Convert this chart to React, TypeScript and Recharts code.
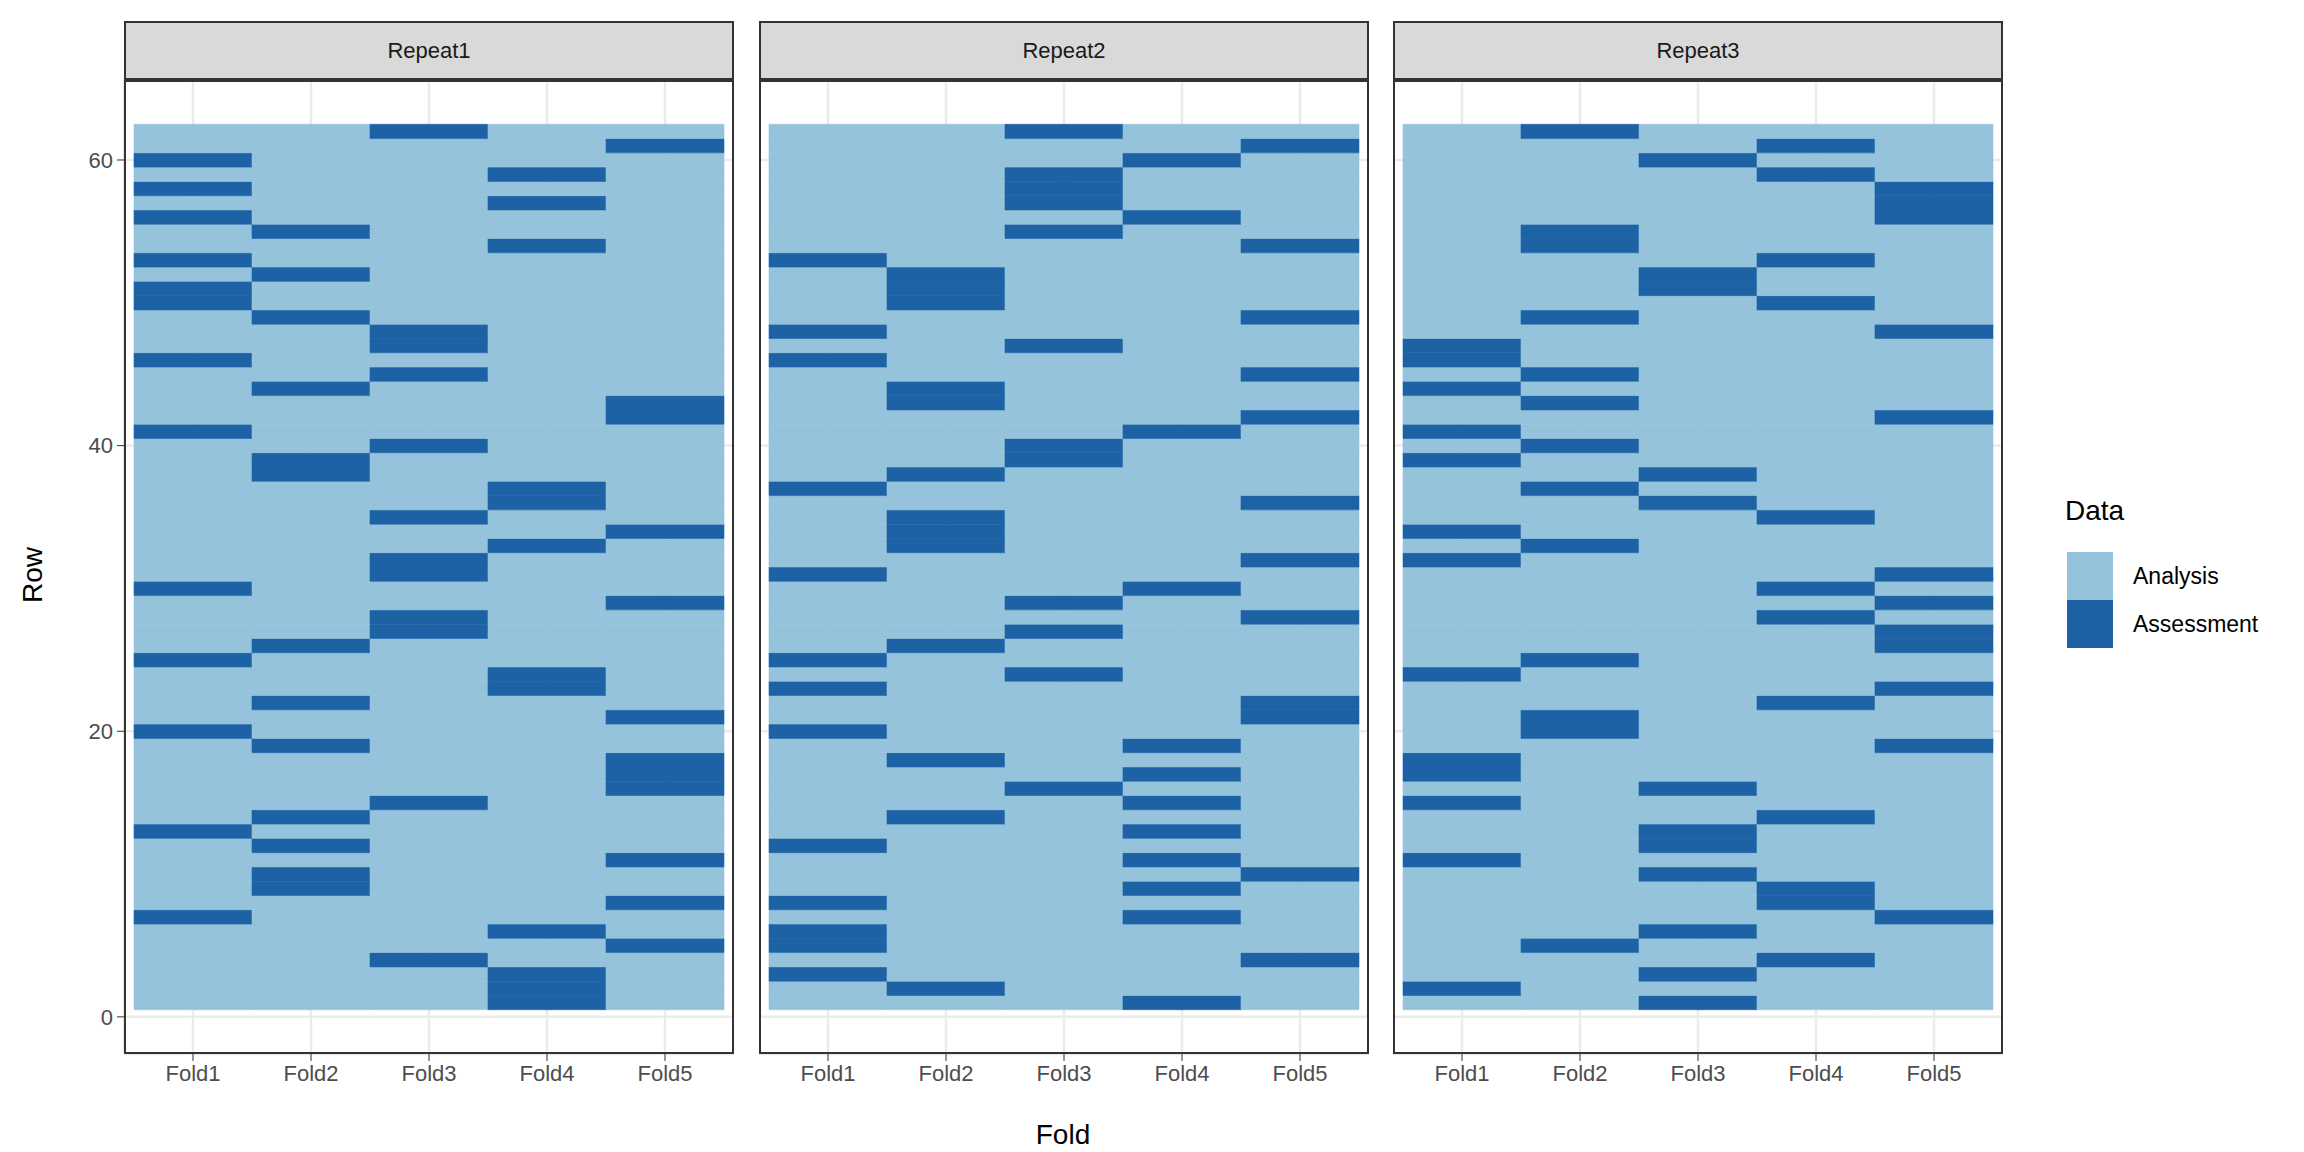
import React from 'react';
import { BarChart, Bar, Cell, XAxis, YAxis, CartesianGrid } from 'recharts';

const FOLDS = ['Fold1', 'Fold2', 'Fold3', 'Fold4', 'Fold5'];
const REPEATS = ['Repeat1', 'Repeat2', 'Repeat3'];
const N_ROWS = 62;
const Y_TICKS = [0, 20, 40, 60];

// assessment rows per fold, one list per repeat
const repeat1 = [
  [60, 58, 56, 53, 51, 50, 46, 41, 30, 25, 20, 13, 7],
  [55, 52, 49, 44, 39, 38, 26, 22, 19, 14, 12, 10, 9],
  [62, 48, 47, 45, 40, 35, 32, 31, 28, 27, 15, 4],
  [59, 57, 54, 37, 36, 33, 24, 23, 6, 3, 2, 1],
  [61, 43, 42, 34, 29, 21, 18, 17, 16, 11, 8, 5],
];
const repeat2 = [
  [53, 48, 46, 37, 31, 25, 23, 20, 12, 8, 6, 5, 3],
  [52, 51, 50, 44, 43, 38, 35, 34, 33, 26, 18, 14, 2],
  [62, 59, 58, 57, 55, 47, 40, 39, 29, 27, 24, 16],
  [60, 56, 41, 30, 19, 17, 15, 13, 11, 9, 7, 1],
  [61, 54, 49, 45, 42, 36, 32, 28, 22, 21, 10, 4],
];
const repeat3 = [
  [47, 46, 44, 41, 39, 34, 32, 24, 18, 17, 15, 11, 2],
  [62, 55, 54, 49, 45, 43, 40, 37, 33, 25, 21, 20, 5],
  [60, 52, 51, 38, 36, 16, 13, 12, 10, 6, 3, 1],
  [61, 59, 53, 50, 35, 30, 28, 22, 14, 9, 8, 4],
  [58, 57, 56, 48, 42, 31, 29, 27, 26, 23, 19, 7],
];
const ASSESSMENT = [repeat1, repeat2, repeat3];

const ANALYSIS_COLOR = '#96C3DC';
const ASSESS_COLOR = '#1D62A4';
const FONT = '"Liberation Sans", Arial, sans-serif';

const ROWS = Array.from({ length: N_ROWS }, (_, i) => i + 1);

const PANEL_LEFT = [124, 759, 1393];
const PANEL_W = 610;
const PLOT_TOP = 80;
const PLOT_H = 974;
const Y_AXIS_W = 60;
const X_AXIS_H = 60;

const Panel = ({ idx }: { idx: number }) => {
  const sets = ASSESSMENT[idx];
  const data = FOLDS.map(f => {
    const d: any = { fold: f, base: 0.5 };
    ROWS.forEach(r => { d['r' + r] = 1; });
    return d;
  });
  const first = idx === 0;
  const left = PANEL_LEFT[idx];
  return (
    <>
      <div style={{
        position: 'absolute', left, top: 21, width: PANEL_W, height: PLOT_TOP - 21,
        boxSizing: 'border-box', border: '2px solid #333', background: '#D9D9D9',
        display: 'flex', alignItems: 'center', justifyContent: 'center',
        fontSize: 22, color: '#1A1A1A', fontFamily: FONT,
      }}>{REPEATS[idx]}</div>
      <div style={{ position: 'absolute', left: first ? left - Y_AXIS_W : left, top: PLOT_TOP }}>
        <BarChart
          width={PANEL_W + (first ? Y_AXIS_W : 0)}
          height={PLOT_H + X_AXIS_H}
          data={data}
          margin={{ top: 0, right: 0, left: 0, bottom: 0 }}
          barCategoryGap={0}
          barGap={0}
        >
          <CartesianGrid stroke="#EBEBEB" strokeWidth={2.5} />
          <XAxis
            dataKey="fold"
            height={X_AXIS_H}
            padding={{ left: 10, right: 10 }}
            tick={{ fill: '#4D4D4D', fontSize: 22, fontFamily: FONT }}
            tickSize={7}
            tickMargin={4}
            axisLine={false}
            stroke="#333"
          />
          <YAxis
            hide={!first}
            width={Y_AXIS_W}
            type="number"
            domain={[-2.6, 65.6]}
            ticks={Y_TICKS}
            tick={{ fill: '#4D4D4D', fontSize: 22, fontFamily: FONT }}
            tickSize={7}
            tickMargin={4}
            axisLine={false}
            stroke="#333"
            allowDataOverflow
          />
          <Bar dataKey="base" stackId="s" fill="none" isAnimationActive={false} />
          {ROWS.map(r => (
            <Bar key={r} dataKey={'r' + r} stackId="s" isAnimationActive={false}>
              {FOLDS.map((f, fi) => {
                const c = sets[fi].includes(r) ? ASSESS_COLOR : ANALYSIS_COLOR;
                return <Cell key={f} fill={c} stroke={c} strokeWidth={0.6} />;
              })}
            </Bar>
          ))}
        </BarChart>
      </div>
      <div style={{
        position: 'absolute', left, top: PLOT_TOP, width: PANEL_W, height: PLOT_H,
        boxSizing: 'border-box', border: '2px solid #333', pointerEvents: 'none',
      }} />
    </>
  );
};

export default function App() {
  return (
    <div style={{ position: 'absolute', left: 0, top: 0, width: 2304, height: 1152, background: '#fff', fontFamily: FONT }}>
      {REPEATS.map((_, i) => <Panel key={i} idx={i} />)}
      <div style={{
        position: 'absolute', left: 33, top: 575, fontSize: 28, color: '#000',
        transform: 'translate(-50%, -50%) rotate(-90deg)',
      }}>Row</div>
      <div style={{
        position: 'absolute', left: 1063, top: 1135, fontSize: 28, color: '#000',
        transform: 'translate(-50%, -50%)',
      }}>Fold</div>
      <div style={{ position: 'absolute', left: 2065, top: 495, fontSize: 28, color: '#000' }}>Data</div>
      {[['Analysis', ANALYSIS_COLOR], ['Assessment', ASSESS_COLOR]].map(([label, color], i) => (
        <div key={label} style={{ position: 'absolute', left: 2067, top: 552 + i * 48, height: 48, display: 'flex', alignItems: 'center' }}>
          <div style={{ width: 46, height: 48, background: color }} />
          <div style={{ marginLeft: 20, fontSize: 23, color: '#000' }}>{label}</div>
        </div>
      ))}
    </div>
  );
}
